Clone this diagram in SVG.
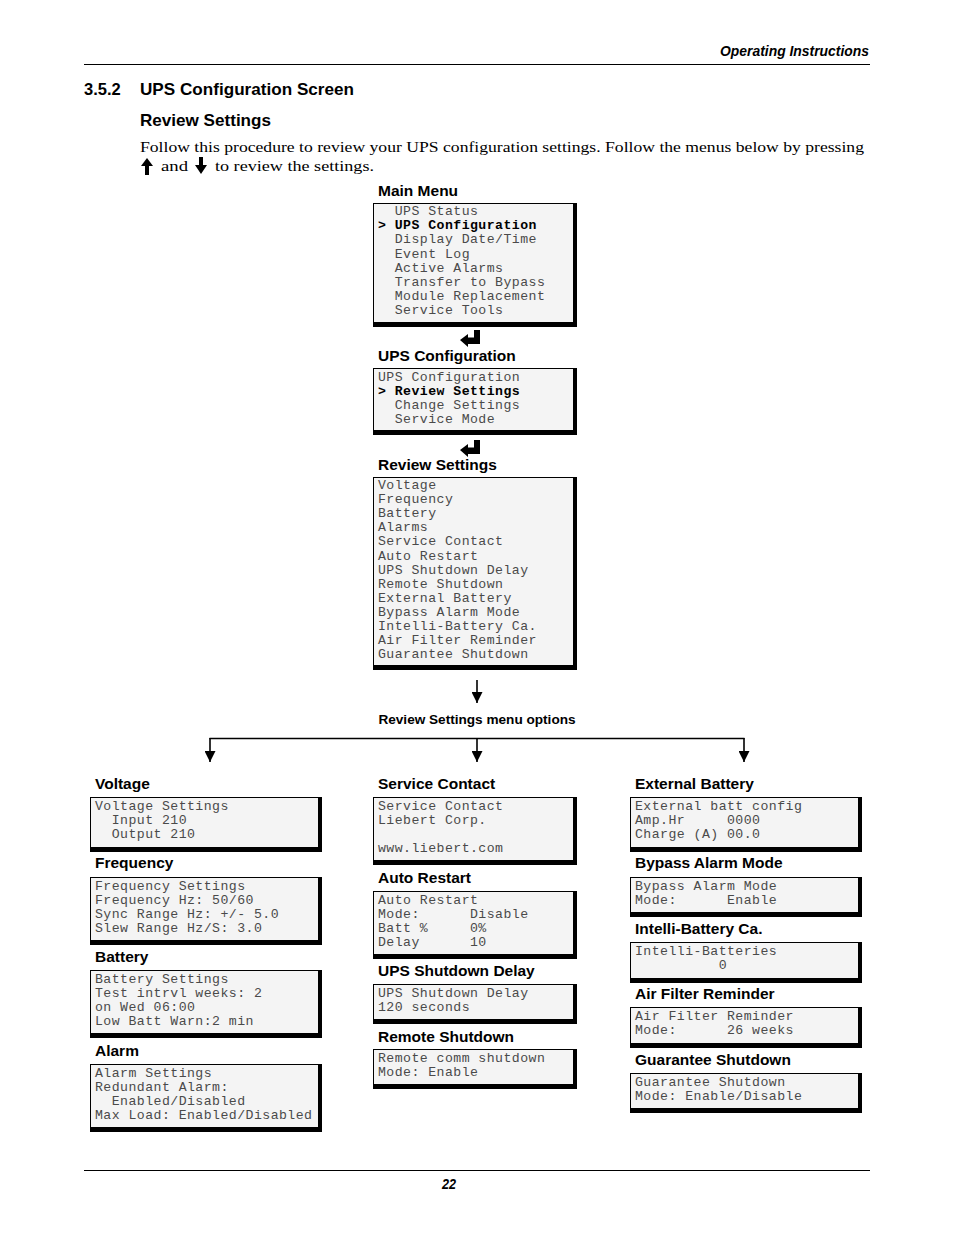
<svg xmlns="http://www.w3.org/2000/svg" width="954" height="1235" viewBox="0 0 954 1235" xml:space="preserve">
<style>
.bg{fill:#fff}
.sh{fill:#000}
.fc{fill:#f4f4f4}
.mono{font-family:"Liberation Mono","Courier New",monospace;font-size:13.2px;letter-spacing:0.45px;fill:#4a4a4a;white-space:pre}
.sel{font-weight:bold;fill:#000}
.hd{font-family:"Liberation Sans",Arial,sans-serif;font-weight:bold;font-size:15.5px;fill:#000}
.sec{font-family:"Liberation Sans",Arial,sans-serif;font-weight:bold;font-size:16.5px;fill:#000}
.body{font-family:"Liberation Serif","Times New Roman",serif;font-size:15.5px;fill:#000}
.rule{stroke:#000;stroke-width:1.2;fill:none}
.conn{stroke:#000;stroke-width:1.6;fill:none}
.ico{fill:#000}
</style>
<defs>
<marker id="ah" markerWidth="11" markerHeight="11" refX="10" refY="5" orient="auto" markerUnits="userSpaceOnUse" viewBox="0 0 10 10">
<path d="M0,0 L10,5 L0,10 Z" fill="#000"/>
</marker>
</defs>
<rect class="bg" x="0" y="0" width="954" height="1235"/>

<g id="page-header">
<text x="869" y="56" text-anchor="end" font-family="Liberation Sans,Arial,sans-serif" font-weight="bold" font-style="italic" font-size="14" textLength="149" lengthAdjust="spacingAndGlyphs">Operating Instructions</text>
<line class="rule" x1="84" y1="64.5" x2="870" y2="64.5"/>
<text class="sec" x="84" y="95">3.5.2</text>
<text class="sec" x="140" y="95" textLength="214" lengthAdjust="spacingAndGlyphs">UPS Configuration Screen</text>
<text class="sec" x="140" y="126" textLength="131" lengthAdjust="spacingAndGlyphs">Review Settings</text>
<text class="body" x="140" y="152" textLength="724" lengthAdjust="spacingAndGlyphs">Follow this procedure to review your UPS configuration settings. Follow the menus below by pressing</text>
<path class="ico" d="M147,158 L153,166 L149,166 L149,175 L145,175 L145,166 L141,166 Z"/>
<text class="body" x="161" y="171" textLength="27" lengthAdjust="spacingAndGlyphs">and</text>
<path class="ico" d="M201,174 L207,165 L203,165 L203,157 L199,157 L199,165 L195,165 Z"/>
<text class="body" x="215" y="171" textLength="159" lengthAdjust="spacingAndGlyphs">to review the settings.</text>
</g>

<g id="main-menu">
<text class="hd" x="378" y="195.5">Main Menu</text>
<rect class="sh" x="373" y="203" width="204" height="124"/>
<rect class="fc" x="374" y="204" width="199" height="118"/>
<text class="mono" x="378" y="215">  UPS Status</text>
<text class="mono sel" x="378" y="229.2">&gt; UPS Configuration</text>
<text class="mono" x="378" y="243.4">  Display Date/Time</text>
<text class="mono" x="378" y="257.6">  Event Log</text>
<text class="mono" x="378" y="271.8">  Active Alarms</text>
<text class="mono" x="378" y="286">  Transfer to Bypass</text>
<text class="mono" x="378" y="300.2">  Module Replacement</text>
<text class="mono" x="378" y="314.4">  Service Tools</text>
</g>

<g id="ups-configuration">
<text class="hd" x="378" y="360.5">UPS Configuration</text>
<rect class="sh" x="373" y="368" width="204" height="67"/>
<rect class="fc" x="374" y="369" width="199" height="61"/>
<text class="mono" x="378" y="380.5">UPS Configuration</text>
<text class="mono sel" x="378" y="394.6">&gt; Review Settings</text>
<text class="mono" x="378" y="408.7">  Change Settings</text>
<text class="mono" x="378" y="422.8">  Service Mode</text>
</g>

<g id="review-settings">
<text class="hd" x="378" y="469.5">Review Settings</text>
<rect class="sh" x="373" y="477" width="204" height="193"/>
<rect class="fc" x="374" y="478" width="199" height="187"/>
<text class="mono" x="378" y="489">Voltage</text>
<text class="mono" x="378" y="503.1">Frequency</text>
<text class="mono" x="378" y="517.2">Battery</text>
<text class="mono" x="378" y="531.3">Alarms</text>
<text class="mono" x="378" y="545.4">Service Contact</text>
<text class="mono" x="378" y="559.5">Auto Restart</text>
<text class="mono" x="378" y="573.6">UPS Shutdown Delay</text>
<text class="mono" x="378" y="587.7">Remote Shutdown</text>
<text class="mono" x="378" y="601.8">External Battery</text>
<text class="mono" x="378" y="615.9">Bypass Alarm Mode</text>
<text class="mono" x="378" y="630">Intelli-Battery Ca.</text>
<text class="mono" x="378" y="644.1">Air Filter Reminder</text>
<text class="mono" x="378" y="658.2">Guarantee Shutdown</text>
</g>

<g id="connectors">
<path class="ico" d="M460,340 L468,334 L468,337.5 L474,337.5 L474,330 L480,330 L480,344 L468,344 L468,347 Z"/>
<path class="ico" d="M460,450 L468,444 L468,447.5 L474,447.5 L474,440 L480,440 L480,454 L468,454 L468,457 Z"/>
<line class="conn" x1="477" y1="680" x2="477" y2="703" marker-end="url(#ah)"/>
<text x="477" y="724" text-anchor="middle" font-family="Liberation Sans,Arial,sans-serif" font-weight="bold" font-size="13.6">Review Settings menu options</text>
<line class="conn" x1="209.5" y1="738.5" x2="744.5" y2="738.5"/>
<line class="conn" x1="210" y1="738" x2="210" y2="762" marker-end="url(#ah)"/>
<line class="conn" x1="477" y1="738" x2="477" y2="762" marker-end="url(#ah)"/>
<line class="conn" x1="744" y1="738" x2="744" y2="762" marker-end="url(#ah)"/>
</g>

<g id="voltage">
<text class="hd" x="95" y="788.5">Voltage</text>
<rect class="sh" x="90" y="797" width="232" height="55"/>
<rect class="fc" x="91" y="798" width="227" height="49"/>
<text class="mono" x="95" y="809.5">Voltage Settings</text>
<text class="mono" x="95" y="823.6">  Input 210</text>
<text class="mono" x="95" y="837.7">  Output 210</text>
</g>

<g id="frequency">
<text class="hd" x="95" y="867.5">Frequency</text>
<rect class="sh" x="90" y="877" width="232" height="68"/>
<rect class="fc" x="91" y="878" width="227" height="62"/>
<text class="mono" x="95" y="889.5">Frequency Settings</text>
<text class="mono" x="95" y="903.6">Frequency Hz: 50/60</text>
<text class="mono" x="95" y="917.7">Sync Range Hz: +/- 5.0</text>
<text class="mono" x="95" y="931.8">Slew Range Hz/S: 3.0</text>
</g>

<g id="battery">
<text class="hd" x="95" y="961.5">Battery</text>
<rect class="sh" x="90" y="970" width="232" height="68"/>
<rect class="fc" x="91" y="971" width="227" height="62"/>
<text class="mono" x="95" y="982.5">Battery Settings</text>
<text class="mono" x="95" y="996.6">Test intrvl weeks: 2</text>
<text class="mono" x="95" y="1010.7">on Wed 06:00</text>
<text class="mono" x="95" y="1024.8">Low Batt Warn:2 min</text>
</g>

<g id="alarm">
<text class="hd" x="95" y="1055.5">Alarm</text>
<rect class="sh" x="90" y="1064" width="232" height="68"/>
<rect class="fc" x="91" y="1065" width="227" height="62"/>
<text class="mono" x="95" y="1076.5">Alarm Settings</text>
<text class="mono" x="95" y="1090.6">Redundant Alarm:</text>
<text class="mono" x="95" y="1104.7">  Enabled/Disabled</text>
<text class="mono" x="95" y="1118.8">Max Load: Enabled/Disabled</text>
</g>

<g id="service-contact">
<text class="hd" x="378" y="788.5">Service Contact</text>
<rect class="sh" x="373" y="797" width="204" height="68"/>
<rect class="fc" x="374" y="798" width="199" height="62"/>
<text class="mono" x="378" y="809.5">Service Contact</text>
<text class="mono" x="378" y="823.6">Liebert Corp.</text>
<text class="mono" x="378" y="851.8">www.liebert.com</text>
</g>

<g id="auto-restart">
<text class="hd" x="378" y="882.5">Auto Restart</text>
<rect class="sh" x="373" y="891" width="204" height="68"/>
<rect class="fc" x="374" y="892" width="199" height="62"/>
<text class="mono" x="378" y="903.5">Auto Restart</text>
<text class="mono" x="378" y="917.6">Mode:      Disable</text>
<text class="mono" x="378" y="931.7">Batt %     0%</text>
<text class="mono" x="378" y="945.8">Delay      10</text>
</g>

<g id="ups-shutdown-delay">
<text class="hd" x="378" y="975.5">UPS Shutdown Delay</text>
<rect class="sh" x="373" y="984" width="204" height="40"/>
<rect class="fc" x="374" y="985" width="199" height="34"/>
<text class="mono" x="378" y="996.5">UPS Shutdown Delay</text>
<text class="mono" x="378" y="1010.6">120 seconds</text>
</g>

<g id="remote-shutdown">
<text class="hd" x="378" y="1041.5">Remote Shutdown</text>
<rect class="sh" x="373" y="1049" width="204" height="40"/>
<rect class="fc" x="374" y="1050" width="199" height="34"/>
<text class="mono" x="378" y="1061.5">Remote comm shutdown</text>
<text class="mono" x="378" y="1075.6">Mode: Enable</text>
</g>

<g id="external-battery">
<text class="hd" x="635" y="788.5">External Battery</text>
<rect class="sh" x="630" y="797" width="232" height="55"/>
<rect class="fc" x="631" y="798" width="227" height="49"/>
<text class="mono" x="635" y="809.5">External batt config</text>
<text class="mono" x="635" y="823.6">Amp.Hr     0000</text>
<text class="mono" x="635" y="837.7">Charge (A) 00.0</text>
</g>

<g id="bypass-alarm-mode">
<text class="hd" x="635" y="867.5">Bypass Alarm Mode</text>
<rect class="sh" x="630" y="877" width="232" height="40"/>
<rect class="fc" x="631" y="878" width="227" height="34"/>
<text class="mono" x="635" y="889.5">Bypass Alarm Mode</text>
<text class="mono" x="635" y="903.6">Mode:      Enable</text>
</g>

<g id="intelli-battery">
<text class="hd" x="635" y="933.5">Intelli-Battery Ca.</text>
<rect class="sh" x="630" y="942" width="232" height="41"/>
<rect class="fc" x="631" y="943" width="227" height="35"/>
<text class="mono" x="635" y="954.5">Intelli-Batteries</text>
<text class="mono" x="635" y="968.6">          0</text>
</g>

<g id="air-filter-reminder">
<text class="hd" x="635" y="998.5">Air Filter Reminder</text>
<rect class="sh" x="630" y="1007" width="232" height="41"/>
<rect class="fc" x="631" y="1008" width="227" height="35"/>
<text class="mono" x="635" y="1019.5">Air Filter Reminder</text>
<text class="mono" x="635" y="1033.6">Mode:      26 weeks</text>
</g>

<g id="guarantee-shutdown">
<text class="hd" x="635" y="1064.5">Guarantee Shutdown</text>
<rect class="sh" x="630" y="1073" width="232" height="40"/>
<rect class="fc" x="631" y="1074" width="227" height="34"/>
<text class="mono" x="635" y="1085.5">Guarantee Shutdown</text>
<text class="mono" x="635" y="1099.6">Mode: Enable/Disable</text>
</g>

<g id="page-footer">
<line class="rule" x1="84" y1="1170.5" x2="870" y2="1170.5"/>
<text x="449" y="1189" text-anchor="middle" font-family="Liberation Sans,Arial,sans-serif" font-weight="bold" font-style="italic" font-size="14" textLength="14" lengthAdjust="spacingAndGlyphs">22</text>
</g>
</svg>
